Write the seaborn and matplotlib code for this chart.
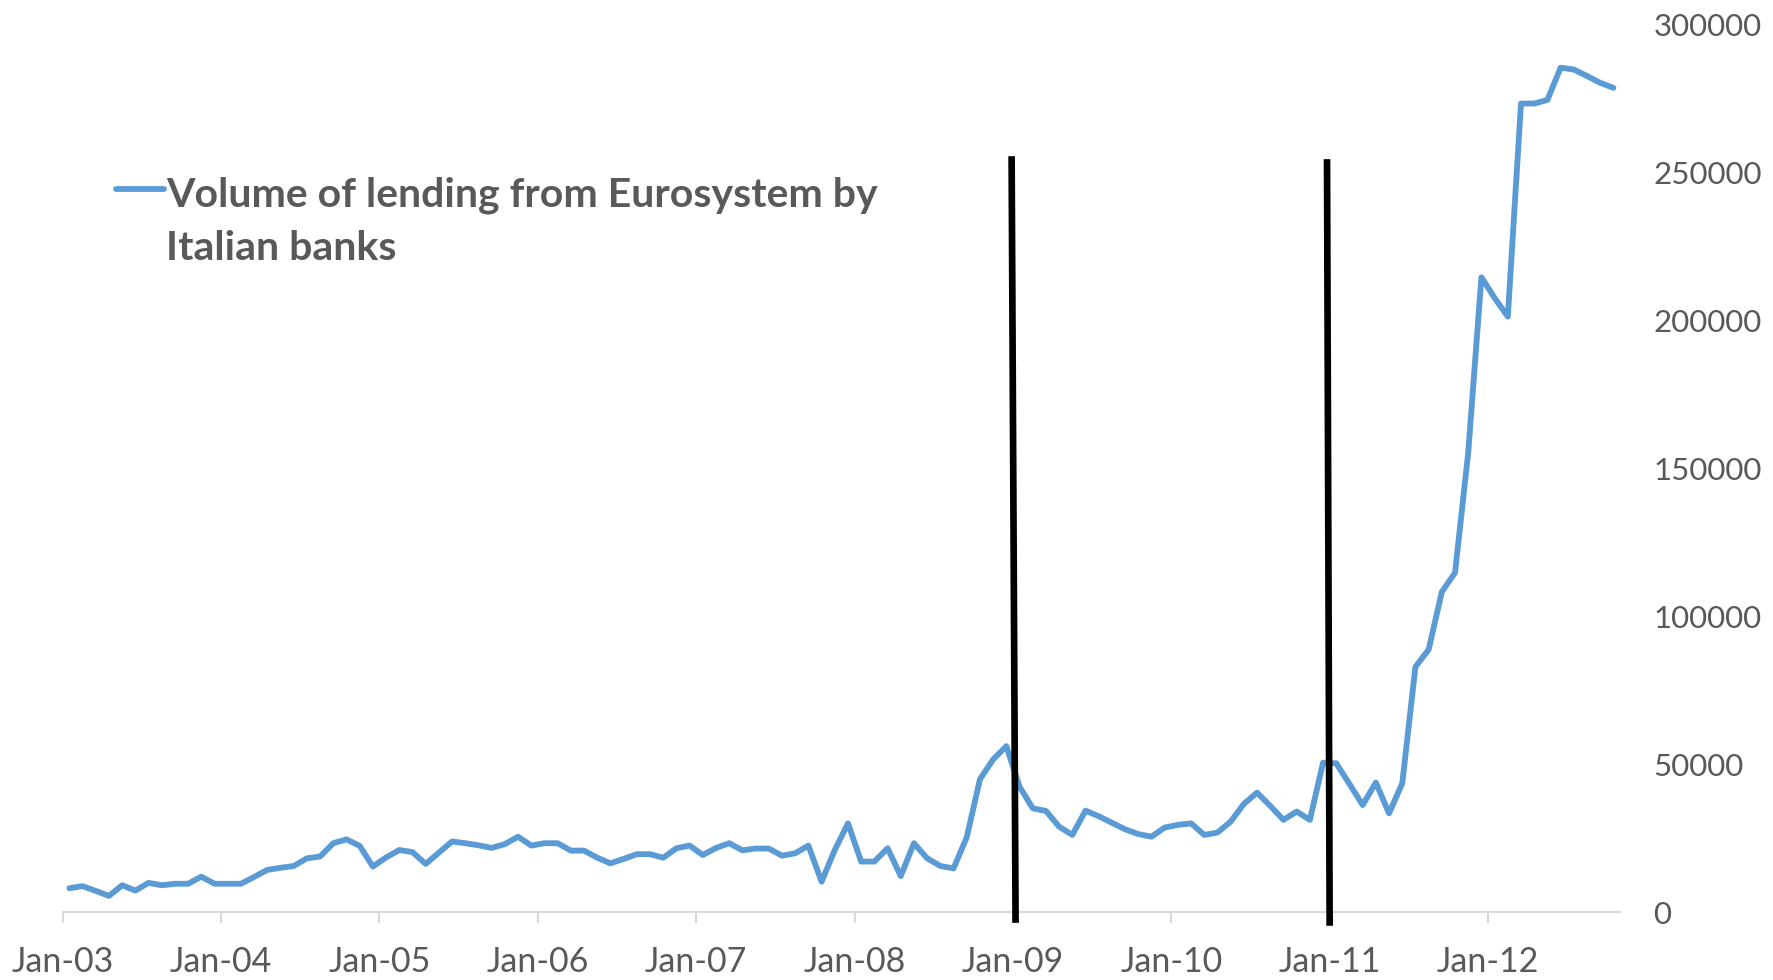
import numpy as np
import pandas as pd
import matplotlib
matplotlib.use("Agg")
import matplotlib.pyplot as plt
import seaborn as sns

# monthly volume of Eurosystem lending to Italian banks, Jan-03 .. Oct-12
start_month = "2003-01"
n_months = 118
lending = [
    8200, 8900, 7300, 5600, 9200, 7400, 10000, 9200, 9700, 9700, 12100, 9700,
    9700, 9700, 12000, 14400, 15100, 15700, 18300, 18900, 23400, 24700, 22500, 15500,
    18600, 21100, 20400, 16400, 20200, 24000, 23400, 22700, 21800, 23100, 25600, 22600,
    23400, 23400, 20900, 20900, 18500, 16600, 18100, 19700, 19700, 18500, 21700, 22600,
    19400, 21800, 23400, 21000, 21600, 21600, 19200, 20000, 22600, 10400, 21100, 30100,
    17200, 17200, 21700, 12300, 23400, 18300, 15700, 14900, 25400, 45000, 51700, 56200,
    42500, 35200, 34300, 29000, 26200, 34400, 32500, 30300, 28100, 26500, 25600, 28700,
    29600, 30100, 26200, 27000, 30700, 36700, 40500, 36000, 31300, 34100, 31300, 50600,
    50400, 43400, 36300, 43900, 33500, 43600, 83000, 88800, 108300, 114800, 155400, 214600,
    207600, 201300, 273300, 273300, 274500, 285400, 284800, 282600, 280300, 278600,
]
series_label = ["Volume of lending from Eurosystem by", "Italian banks"]
y_ticks = [0, 50000, 100000, 150000, 200000, 250000, 300000]
# marker lines (x in month index, top value, bottom value)
event_x_top = [71.4, 95.3]
event_x_bottom = [71.7, 95.5]
event_top = [255500, 254500]
event_bottom = [-3500, -4500]

months = pd.date_range(start_month, periods=n_months, freq="MS")
df = pd.DataFrame({"pos": np.arange(n_months), "month": months, "value": lending})

sns.set_theme(style="white")
plt.rcParams["font.family"] = ["Lato", "DejaVu Sans"]

blue = "#5B9BD5"
grey_txt = "#595959"
axis_grey = "#D9D9D9"

fig = plt.figure(figsize=(17.73, 9.80), dpi=100)
ax = fig.add_axes([0.0354, 0.0689, 0.9137 - 0.0354, 0.975 - 0.0689])

sns.lineplot(data=df, x="pos", y="value", ax=ax, color=blue, linewidth=4.2, legend=False)

for xt, xb, yt, yb in zip(event_x_top, event_x_bottom, event_top, event_bottom):
    ax.plot([xt, xb], [yt, yb], color="black", linewidth=4.8, clip_on=False, zorder=3,
            solid_capstyle="butt")

ax.set_xlim(-0.5, n_months - 0.5)
ax.set_ylim(0, 300000)

jan_pos = [p - 0.5 for p in df["pos"][df["month"].dt.month == 1]]
jan_lab = [m.strftime("%b-%y") for m in df["month"][df["month"].dt.month == 1]]
ax.set_xticks(jan_pos)
ax.set_xticklabels(jan_lab)
ax.set_yticks(y_ticks)
ax.set_yticklabels([str(v) for v in y_ticks])
ax.yaxis.tick_right()

ax.tick_params(axis="x", length=8, width=1.5, color=axis_grey, pad=16,
               labelsize=24.5, labelcolor=grey_txt, bottom=True)
ax.tick_params(axis="y", length=0, pad=24, labelsize=22.5, labelcolor=grey_txt)
for s in ["top", "left", "right"]:
    ax.spines[s].set_visible(False)
ax.spines["bottom"].set_color(axis_grey)
ax.spines["bottom"].set_linewidth(1.5)
ax.set_xlabel("")
ax.set_ylabel("")

# legend drawn by hand so the key sits beside the first line of the label
ax.plot([116 / 1773, 164 / 1773], [1 - 189 / 980, 1 - 189 / 980], transform=fig.transFigure,
        color=blue, linewidth=4.2, solid_capstyle="round", clip_on=False)
fig.text(166 / 1773, 1 - 206 / 980, series_label[0], fontsize=29.5, fontweight="bold",
         color=grey_txt, va="baseline", ha="left")
fig.text(166 / 1773, 1 - 260 / 980, series_label[1], fontsize=29.5, fontweight="bold",
         color=grey_txt, va="baseline", ha="left")

fig.savefig("out.png", dpi=100)
